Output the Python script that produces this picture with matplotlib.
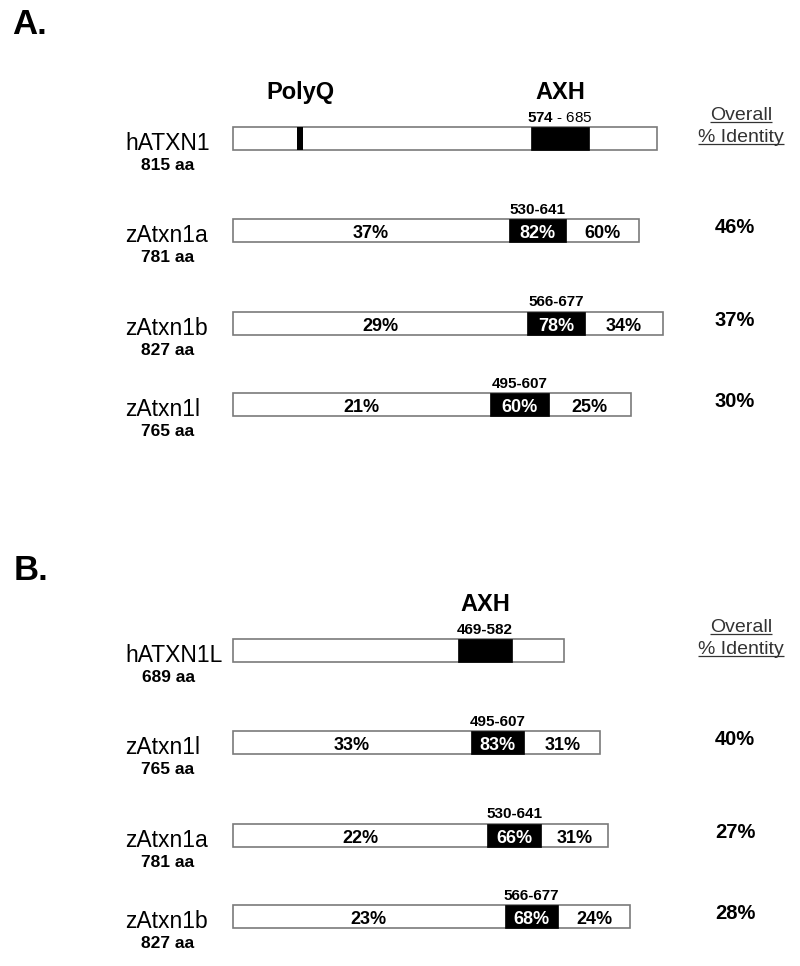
import numpy as np
import matplotlib
matplotlib.use('Agg')
import matplotlib.pyplot as plt
from matplotlib import font_manager

plt.rcParams['font.family'] = ['Liberation Sans', 'DejaVu Sans']
plt.rcParams['mathtext.fontset'] = 'custom'
plt.rcParams['mathtext.rm'] = 'Liberation Sans'
plt.rcParams['mathtext.bf'] = 'Liberation Sans:bold'

installed = {f.name for f in font_manager.fontManager.ttflist}
NARROW = ['Liberation Sans Narrow', 'Liberation Sans'] if 'Liberation Sans Narrow' in installed else ['Liberation Sans']

# panel A: ATXN1 orthologs
names_a = ['hATXN1', 'zAtxn1a', 'zAtxn1b', 'zAtxn1l']
lengths_a = [815, 781, 827, 765]
axh_start_a = [574, 530, 566, 495]
axh_end_a = [685, 641, 677, 607]
left_id_a = [None, 37, 29, 21]
axh_id_a = [None, 82, 78, 60]
right_id_a = [None, 60, 34, 25]
overall_a = [None, 46, 37, 30]
polyq_a = (124, 134)

# panel B: ATXN1L orthologs
names_b = ['hATXN1L', 'zAtxn1l', 'zAtxn1a', 'zAtxn1b']
lengths_b = [689, 765, 781, 827]
axh_start_b = [469, 495, 530, 566]
axh_end_b = [582, 607, 641, 677]
left_id_b = [None, 33, 22, 23]
axh_id_b = [None, 83, 66, 68]
right_id_b = [None, 31, 31, 24]
overall_b = [None, 40, 27, 28]

W, H = 800, 966
X0 = 233          # pixel where residue 0 sits
BAR_H = 23
ROW_OFF = np.array([0, 92, 185, 266])

fig = plt.figure(figsize=(W / 100, H / 100), dpi=100)
fig.patch.set_facecolor('white')


def panel(scale, y0, names, lengths, starts, ends, left_id, axh_id, right_id, overall, polyq=None):
    ax = fig.add_axes([0, 0, 1, 1])
    ax.set_xlim(-X0 / scale, (W - X0) / scale)
    ax.set_ylim(H, 0)
    ax.axis('off')
    ax.patch.set_alpha(0)
    px = lambda xp: (xp - X0) / scale
    rows = y0 + ROW_OFF

    ax.barh(rows, lengths, left=0, height=BAR_H, color='white', edgecolor='#7a7a7a', linewidth=1.2, zorder=2)
    ax.barh(rows, np.array(ends) - np.array(starts), left=starts, height=BAR_H,
            color='black', edgecolor='black', linewidth=0.5, zorder=3)

    for i, yc in enumerate(rows):
        s, e, L = starts[i], ends[i], lengths[i]
        if polyq is not None and i == 0:
            label = r'$\mathbf{%d}$ - %d' % (s, e)
            ax.text((s + e) / 2, yc - 21, label, ha='center', va='center', fontsize=11)
        else:
            ax.text((s + e) / 2, yc - 21, f'{s}-{e}', ha='center', va='center', fontsize=11,
                    weight='bold', family=NARROW)
        ax.text(px(125), yc + 5, names[i], ha='left', va='center', fontsize=16.5)
        ax.text(px(168), yc + 27, f'{L} aa', ha='center', va='center', fontsize=12.5,
                weight='bold', family=NARROW)
        if overall[i] is not None:
            ax.text(px(735), yc - 3, f'{overall[i]}%', ha='center', va='center', fontsize=14.5, weight='bold')
            ax.text(s / 2, yc + 3, f'{left_id[i]}%', ha='center', va='center', fontsize=13,
                    weight='bold', family=NARROW, zorder=4)
            ax.text((s + e) / 2, yc + 3, f'{axh_id[i]}%', ha='center', va='center', fontsize=13,
                    weight='bold', family=NARROW, color='white', zorder=4)
            ax.text((e + L) / 2, yc + 3, f'{right_id[i]}%', ha='center', va='center', fontsize=13,
                    weight='bold', family=NARROW, zorder=4)

    # domain headers
    ax.text((starts[0] + ends[0]) / 2, rows[0] - 46, 'AXH', ha='center', va='center',
            fontsize=17, weight='bold')
    if polyq is not None:
        ax.barh(rows[0], polyq[1] - polyq[0], left=polyq[0], height=BAR_H, color='black', zorder=3)
        ax.text(sum(polyq) / 2, rows[0] - 46, 'PolyQ', ha='center', va='center',
                fontsize=17, weight='bold')

    # overall identity column header, underlined
    heads = [ax.text(px(741), rows[0] - 18, 'Overall', ha='center', va='baseline', fontsize=14, color='#333333'),
             ax.text(px(741), rows[0] + 4, '% Identity', ha='center', va='baseline', fontsize=14, color='#333333')]
    return ax, heads


axA, headsA = panel(0.52, 138.5, names_a, lengths_a, axh_start_a, axh_end_a,
                    left_id_a, axh_id_a, right_id_a, overall_a, polyq=polyq_a)
axB, headsB = panel(0.48, 650.5, names_b, lengths_b, axh_start_b, axh_end_b,
                    left_id_b, axh_id_b, right_id_b, overall_b)

fig.text(12 / W, 1 - 25 / H, 'A.', ha='left', va='center', fontsize=25, weight='bold')
fig.text(14 / W, 1 - 570 / H, 'B.', ha='left', va='center', fontsize=25, weight='bold')

# underline the column headers
fig.canvas.draw()
renderer = fig.canvas.get_renderer()
for ax, heads in [(axA, headsA), (axB, headsB)]:
    for t in heads:
        bb = t.get_window_extent(renderer).transformed(ax.transData.inverted())
        yb = t.get_position()[1] + 1.8
        ax.plot([bb.x0, bb.x1], [yb, yb], color='#333333', lw=0.9, solid_capstyle='butt')

fig.savefig('out.png', dpi=100, facecolor='white')
